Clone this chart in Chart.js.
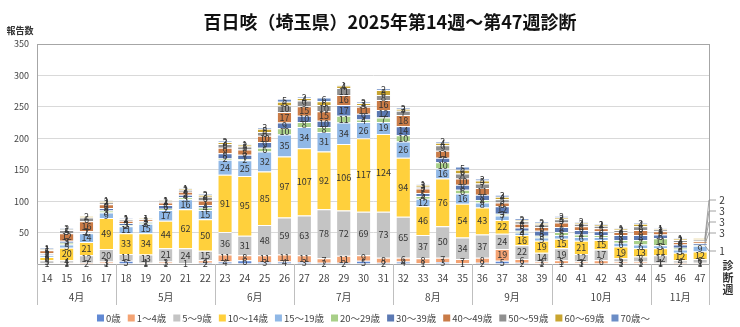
<!DOCTYPE html>
<html lang="ja">
<head>
<meta charset="utf-8">
<title>百日咳（埼玉県）2025年第14週～第47週診断</title>
<script src="https://cdn.jsdelivr.net/npm/chart.js@4.4.1/dist/chart.umd.min.js"></script>
<style>
  html, body { margin: 0; padding: 0; background: #fff; }
  #wrap { width: 740px; height: 327px; }
</style>
</head>
<body>
<div id="wrap"><canvas id="pertussisChart" width="740" height="327"></canvas></div>
<script>
// 診断週（第14週～第47週）
const weeks = [14, 15, 16, 17, 18, 19, 20, 21, 22, 23, 24, 25, 26, 27, 28, 29, 30,
               31, 32, 33, 34, 35, 36, 37, 38, 39, 40, 41, 42, 43, 44, 45, 46, 47];

// 月の区切り（各月の最初の週）
const months = ['4月', '5月', '6月', '7月', '8月', '9月', '10月', '11月'];
const monthStartWeeks = [14, 18, 23, 27, 32, 36, 40, 45];

const ageGroups = ['0歳', '1～4歳', '5～9歳', '10～14歳', '15～19歳', '20～29歳',
                   '30～39歳', '40～49歳', '50～59歳', '60～69歳', '70歳～'];

// 年齢群別 報告数（週ごと）
const age0     = [0, 1, 0, 1, 5, 1, 1, 0, 2, 4, 6, 3, 4, 3, 2, 2, 5, 2, 4, 1, 3, 1, 2, 5, 2, 1, 1, 1, 0, 1, 1, 1, 0, 1];
const age1to4  = [1, 1, 2, 3, 0, 1, 3, 1, 4, 11, 8, 11, 11, 11, 7, 11, 9, 8, 6, 8, 7, 7, 8, 19, 6, 3, 5, 3, 6, 3, 3, 1, 2, 1];
const age5to9  = [5, 4, 12, 20, 11, 13, 21, 24, 15, 36, 31, 48, 59, 63, 78, 72, 69, 73, 65, 37, 50, 34, 37, 24, 22, 14, 19, 12, 17, 5, 8, 12, 4, 6];
const age10to14 = [5, 20, 21, 49, 33, 34, 44, 62, 50, 91, 95, 85, 97, 107, 92, 106, 117, 124, 94, 46, 76, 54, 43, 22, 16, 19, 15, 21, 15, 19, 13, 11, 12, 12];
const age15to19 = [3, 5, 14, 9, 11, 15, 17, 16, 15, 24, 25, 32, 35, 34, 31, 34, 26, 19, 26, 12, 16, 16, 8, 7, 4, 5, 6, 6, 5, 6, 6, 5, 5, 9];
const age20s   = [1, 3, 1, 3, 2, 2, 2, 3, 4, 2, 2, 6, 10, 8, 8, 11, 4, 7, 10, 4, 10, 6, 4, 3, 3, 3, 5, 4, 3, 4, 7, 11, 3, 1];
const age30s   = [2, 3, 2, 4, 3, 2, 6, 4, 4, 8, 7, 9, 9, 10, 10, 17, 9, 12, 14, 5, 7, 8, 8, 12, 5, 8, 8, 7, 6, 8, 8, 6, 5, 3];
const age40s   = [5, 12, 16, 6, 4, 3, 4, 5, 7, 9, 8, 10, 17, 15, 15, 16, 11, 16, 18, 7, 11, 10, 11, 6, 6, 6, 7, 6, 5, 5, 8, 5, 4, 3];
const age50s   = [1, 5, 6, 3, 2, 1, 2, 3, 6, 6, 5, 6, 10, 9, 10, 11, 3, 8, 7, 3, 9, 8, 7, 5, 4, 4, 5, 4, 4, 3, 6, 3, 3, 3];
const age60s   = [1, 1, 2, 2, 1, 1, 1, 2, 3, 3, 3, 5, 6, 4, 6, 4, 3, 8, 3, 3, 4, 6, 5, 4, 2, 2, 3, 2, 2, 2, 4, 1, 2, 2];
const age70up  = [1, 2, 0, 1, 1, 0, 1, 1, 2, 2, 1, 3, 5, 2, 6, 1, 2, 2, 2, 1, 2, 5, 3, 3, 2, 2, 2, 2, 1, 1, 2, 1, 1, 0];

const seriesValues = [age0, age1to4, age5to9, age10to14, age15to19, age20s,
                      age30s, age40s, age50s, age60s, age70up];

const seriesColors = ['#6189d4', '#f4a373', '#c4c4c4', '#ffd03c', '#90b8e6', '#a8cf88',
                      '#5b79b3', '#c97b47', '#8f8f8f', '#c9a530', '#6b8dc6'];

const yTicks = [0, 50, 100, 150, 200, 250, 300, 350];

const JP_FONT = '"Noto Sans CJK JP", "Noto Sans", sans-serif';

// 最終週の上位年齢群のラベルは棒の右側に引き出し線付きで表示
const SIDE_LABEL_FROM = 5;

const chartDecorations = {
  id: 'chartDecorations',
  beforeDatasetsDraw(chart) {
    const { ctx, chartArea } = chart;
    ctx.save();
    ctx.strokeStyle = '#a6a6a6';
    ctx.lineWidth = 1;
    ctx.strokeRect(chartArea.left + 0.5, chartArea.top + 0.5,
                   chartArea.right - chartArea.left - 1, chartArea.bottom - chartArea.top);
    ctx.restore();
  },
  afterDatasetsDraw(chart) {
    const { ctx, chartArea } = chart;
    const last = weeks.length - 1;

    // 各区分の数値ラベル
    ctx.save();
    ctx.font = '9px ' + JP_FONT;
    ctx.fillStyle = '#333';
    ctx.textAlign = 'center';
    ctx.textBaseline = 'middle';
    chart.data.datasets.forEach((ds, di) => {
      const meta = chart.getDatasetMeta(di);
      meta.data.forEach((bar, i) => {
        const v = ds.data[i];
        if (!v) return;
        if (i === last && di >= SIDE_LABEL_FROM) return;
        const p = bar.getProps(['x', 'y', 'base'], true);
        ctx.fillText(String(v), p.x, (p.y + p.base) / 2);
      });
    });

    // 最終週の引き出しラベル
    const sideOffsets = [13, 31, 42, 53, 64, 75];
    let k = 0;
    ctx.strokeStyle = '#8c8c8c';
    ctx.lineWidth = 0.8;
    ctx.font = '10px ' + JP_FONT;
    for (let di = SIDE_LABEL_FROM; di < seriesValues.length; di++) {
      const v = seriesValues[di][last];
      if (!v) continue;
      const bar = chart.getDatasetMeta(di).data[last];
      const p = bar.getProps(['x', 'y', 'base', 'width'], true);
      const ly = chartArea.bottom - sideOffsets[k];
      const lx = chartArea.right + 12;
      ctx.beginPath();
      ctx.moveTo(lx - 6, ly);
      ctx.lineTo(chartArea.right - 1, ly);
      ctx.lineTo(p.x + p.width / 2 - 2, (p.y + p.base) / 2);
      ctx.stroke();
      ctx.fillText(String(v), lx, ly);
      k++;
    }
    ctx.restore();
  },
  afterDraw(chart) {
    const { ctx, chartArea } = chart;
    const xScale = chart.scales.x;
    const stepPx = xScale.getPixelForValue(1) - xScale.getPixelForValue(0);

    ctx.save();
    // タイトル
    ctx.fillStyle = '#111';
    ctx.textAlign = 'center';
    ctx.textBaseline = 'middle';
    ctx.font = 'bold 18px ' + JP_FONT;
    ctx.fillText('百日咳（埼玉県）2025年第14週～第47週診断', 390, 22);

    // 縦軸タイトル
    ctx.font = 'bold 9px ' + JP_FONT;
    ctx.fillStyle = '#333';
    ctx.fillText('報告数', 20, 31);

    // 横軸タイトル（縦書き）
    ctx.font = 'bold 11px ' + JP_FONT;
    ['診', '断', '週'].forEach((ch, i) => ctx.fillText(ch, 728, 266 + i * 12));

    // 月の区切り線と月名
    ctx.strokeStyle = '#bfbfbf';
    ctx.lineWidth = 1;
    const bottom = chartArea.bottom;
    monthStartWeeks.forEach((w, m) => {
      const startIdx = weeks.indexOf(w);
      const endIdx = m + 1 < monthStartWeeks.length ? weeks.indexOf(monthStartWeeks[m + 1]) - 1 : weeks.length - 1;
      const x0 = Math.round(xScale.getPixelForValue(startIdx) - stepPx / 2) + 0.5;
      ctx.beginPath();
      ctx.moveTo(x0, bottom);
      ctx.lineTo(x0, bottom + 41);
      ctx.stroke();
      if (m === monthStartWeeks.length - 1) {
        const x1 = Math.round(xScale.getPixelForValue(endIdx) + stepPx / 2) - 0.5;
        ctx.beginPath();
        ctx.moveTo(x1, bottom);
        ctx.lineTo(x1, bottom + 41);
        ctx.stroke();
      }
      const cx = (xScale.getPixelForValue(startIdx) + xScale.getPixelForValue(endIdx)) / 2;
      ctx.fillStyle = '#444';
      ctx.font = '10px ' + JP_FONT;
      ctx.fillText(months[m], cx, bottom + 33);
    });

    // 凡例
    ctx.font = '9.5px ' + JP_FONT;
    ctx.textAlign = 'left';
    const box = 7, gapBox = 2, gapItem = 7;
    const widths = ageGroups.map(name => box + gapBox + ctx.measureText(name).width);
    const total = widths.reduce((a, b) => a + b, 0) + gapItem * (ageGroups.length - 1);
    let x = (chartArea.left + chartArea.right) / 2 - total / 2;
    const ly = 318;
    ageGroups.forEach((name, i) => {
      ctx.fillStyle = seriesColors[i];
      ctx.fillRect(x, ly - box / 2, box, box);
      ctx.fillStyle = '#444';
      ctx.fillText(name, x + box + gapBox, ly);
      x += widths[i] + gapItem;
    });
    ctx.restore();
  }
};

new Chart(document.getElementById('pertussisChart'), {
  type: 'bar',
  data: {
    labels: weeks.map(String),
    datasets: ageGroups.map((name, i) => ({
      label: name,
      data: seriesValues[i],
      backgroundColor: seriesColors[i],
      borderColor: 'rgba(255,255,255,0.85)',
      borderWidth: { top: 1, bottom: 0, left: 0, right: 0 },
      borderSkipped: false,
      barPercentage: 0.68,
      categoryPercentage: 1.0
    }))
  },
  options: {
    responsive: false,
    devicePixelRatio: 1,
    animation: false,
    layout: { padding: { top: 44, right: 30, left: 0, bottom: 0 } },
    plugins: {
      legend: { display: false },
      title: { display: false },
      tooltip: { enabled: false }
    },
    scales: {
      x: {
        stacked: true,
        grid: { display: false },
        border: { display: false },
        ticks: {
          autoSkip: false,
          maxRotation: 0,
          padding: 0,
          color: '#444',
          font: { size: 10, family: JP_FONT }
        },
        afterFit(scale) { scale.height = 63; }
      },
      y: {
        stacked: true,
        min: yTicks[0],
        max: yTicks[yTicks.length - 1],
        afterBuildTicks(scale) { scale.ticks = yTicks.map(v => ({ value: v })); },
        grid: { color: '#d9d9d9', drawTicks: false },
        border: { display: false },
        ticks: {
          padding: 8,
          color: '#444',
          font: { size: 9, family: JP_FONT },
          callback: v => (v === 0 ? '' : v)
        },
        afterFit(scale) { scale.width = 37; }
      }
    }
  },
  plugins: [chartDecorations]
});
</script>
</body>
</html>
